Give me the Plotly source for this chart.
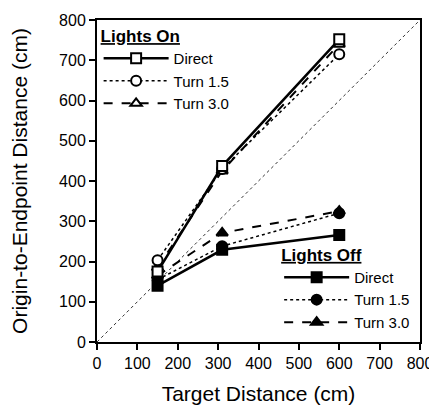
import plotly.graph_objects as go

target = [150, 310, 600]
on_direct = [175, 437, 752]
on_turn15 = [203, 430, 715]
on_turn30 = [185, 425, 740]
off_direct = [140, 229, 266]
off_turn15 = [155, 238, 320]
off_turn30 = [165, 271, 325]
diag = [0, 800]
ticks = [0, 100, 200, 300, 400, 500, 600, 700, 800]

FONT = "Liberation Sans, Arial, sans-serif"
fig = go.Figure()

fig.add_trace(go.Scatter(x=diag, y=diag, mode="lines", showlegend=False,
                         line=dict(color="black", width=0.8, dash="dot"), hoverinfo="skip"))

def add(y, name, dash, symbol, fill, width, legend):
    fig.add_trace(go.Scatter(
        x=target, y=y, name=name, mode="lines+markers", legend=legend,
        line=dict(color="black", width=width, dash=dash),
        marker=dict(symbol=symbol, size=10, color=fill,
                    line=dict(color="black", width=2))))

add(off_direct, "Direct", "solid", "square", "black", 2.5, "legend2")
add(off_turn15, "Turn 1.5", "dot", "circle", "black", 1.5, "legend2")
add(off_turn30, "Turn 3.0", "dash", "triangle-up", "black", 2, "legend2")
add(on_turn30, "Turn 3.0", "dash", "triangle-up", "white", 2, "legend")
add(on_turn15, "Turn 1.5", "dot", "circle", "white", 1.5, "legend")
add(on_direct, "Direct", "solid", "square", "white", 2.5, "legend")

axis_common = dict(range=[0, 800], tickvals=ticks, showgrid=False, zeroline=False,
                   showline=True, linecolor="black", linewidth=2, mirror=True,
                   ticks="outside", ticklen=6, tickwidth=1.5, tickcolor="black",
                   automargin=False,
                   tickfont=dict(size=16, color="black", family=FONT))

fig.update_xaxes(**axis_common, title=dict(text="Target Distance (cm)", font=dict(size=21, family=FONT), standoff=20))
fig.update_yaxes(**axis_common, title=dict(text="Origin-to-Endpoint Distance (cm)", font=dict(size=21, family=FONT), standoff=26))

leg_common = dict(bgcolor="rgba(0,0,0,0)", font=dict(size=15, family=FONT, color="black"),
                  tracegroupgap=0, itemwidth=65)
fig.update_layout(
    width=429, height=397,
    margin=dict(l=89, r=17, t=12, b=63),
    plot_bgcolor="white", paper_bgcolor="white",
    font=dict(family=FONT, color="black"),
    legend=dict(**leg_common, x=0.005, y=1.0, xanchor="left", yanchor="top", traceorder="reversed",
                title=dict(text="<u><b>Lights On</b></u>", font=dict(size=17, family=FONT), side="top")),
    legend2=dict(**leg_common, x=0.985, y=0.01, xanchor="right", yanchor="bottom", traceorder="normal",
                 title=dict(text="<u><b>Lights Off</b></u>", font=dict(size=17, family=FONT), side="top")),
)

fig.write_html("out.html")
